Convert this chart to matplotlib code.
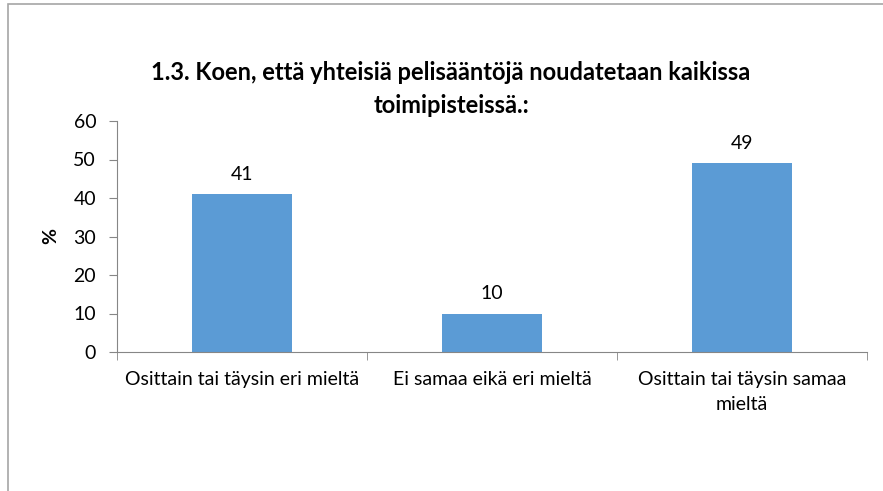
import matplotlib.pyplot as plt
from matplotlib.patches import Rectangle

categories = ['Osittain tai täysin eri mieltä', 'Ei samaa eikä eri mieltä',
              'Osittain tai täysin samaa\nmieltä']
values = [41, 10, 49]
yticks = [0, 10, 20, 30, 40, 50, 60]
title = '1.3. Koen, että yhteisiä pelisääntöjä noudatetaan kaikissa\ntoimipisteissä.:'

plt.rcParams['font.family'] = ['Lato', 'DejaVu Sans']

W, H = 883, 491
fig = plt.figure(figsize=(W / 100, H / 100), dpi=100)

# outer chart frame (right and bottom edges fall outside the picture)
fig.patches.append(Rectangle((8 / W, -0.1), 1.1, 1 - 4 / H + 0.1, transform=fig.transFigure,
                             fill=False, edgecolor='#a6a6a6', linewidth=1.2))

ax = fig.add_axes([117 / W, 1 - 352 / H, (867 - 117) / W, (352 - 121) / H])
x = range(len(values))
ax.bar(x, values, width=0.4, color='#5b9bd5')
for i, v in enumerate(values):
    ax.text(i, v + 3.0, str(v), ha='center', va='bottom', fontsize=14)

ax.set_xlim(-0.5, 2.5)
ax.set_ylim(0, 60)
ax.set_yticks(yticks)
ax.tick_params(axis='y', labelsize=14, color='#868686', length=6, pad=9)
ax.set_xticks([0, 1, 2])
ax.set_xticklabels(categories, fontsize=14, linespacing=1.55, multialignment='center')
ax.tick_params(axis='x', length=0, pad=14)
ax.set_xticks([-0.5, 0.5, 1.5, 2.5], minor=True)
ax.tick_params(axis='x', which='minor', length=6, color='#868686')
for s in ['top', 'right']:
    ax.spines[s].set_visible(False)
for s in ['left', 'bottom']:
    ax.spines[s].set_color('#868686')
ax.set_ylabel('%', fontsize=14, fontweight='bold', labelpad=10)

fig.text(451 / W, 1 - 89 / H, title, ha='center', va='center', fontsize=17,
         fontweight='bold', linespacing=1.5, multialignment='center')

fig.savefig('out.png', dpi=100)
